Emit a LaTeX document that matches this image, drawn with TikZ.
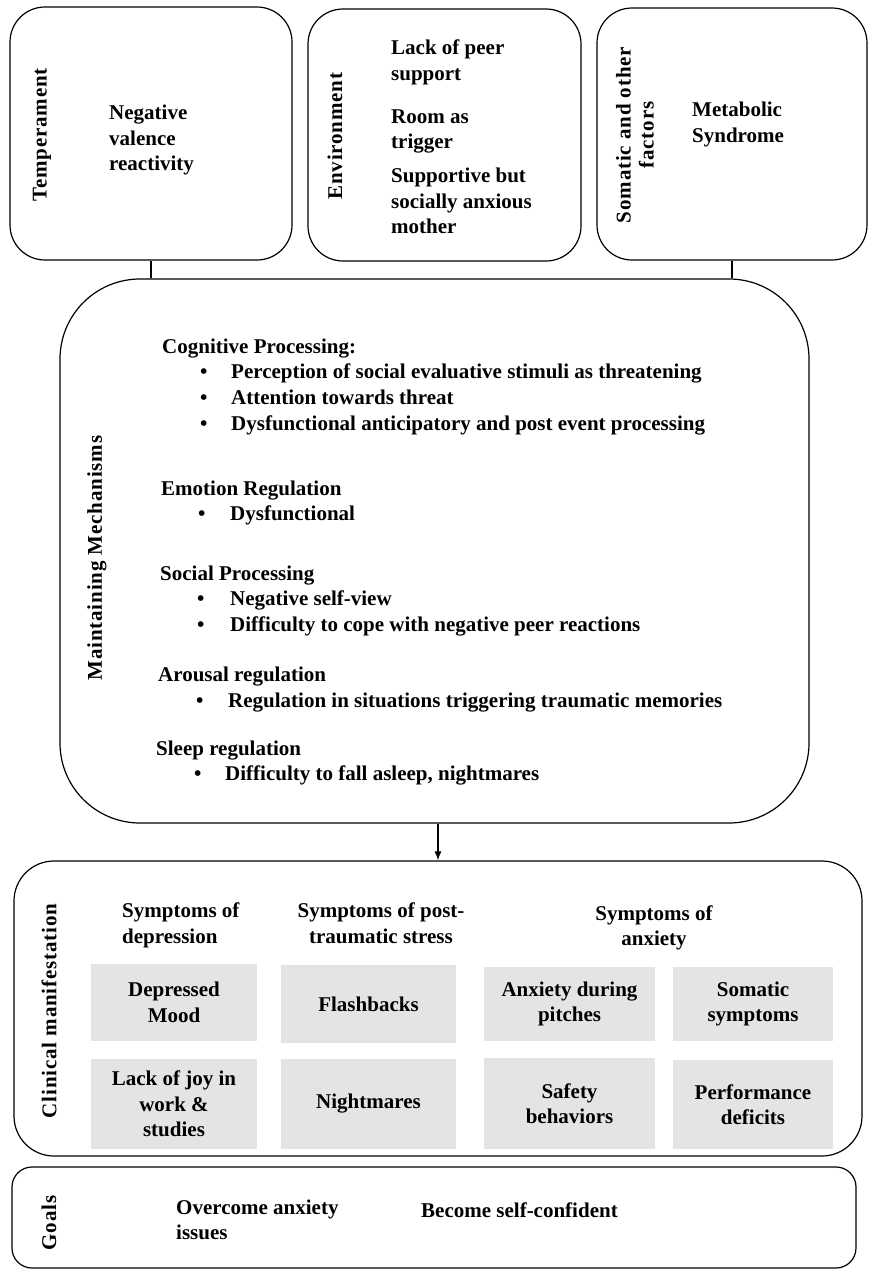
\documentclass[tikz,border=0pt]{standalone}
\usepackage{fontspec}
\setmainfont{Liberation Serif}
\newfontfamily\labfont[LetterSpace=4]{Liberation Serif}
\usetikzlibrary{arrows.meta}
\definecolor{cellgray}{RGB}{228,228,230}
\newcommand{\dfont}{\fontsize{21}{25.5}\selectfont\bfseries}
\newcommand{\lfont}{\labfont\fontsize{21}{23}\selectfont\bfseries}
\begin{document}
\begin{tikzpicture}[x=1pt,y=-1pt,
  box/.style={draw, line width=1.2pt, inner sep=0pt, rounded corners=#1},
  cell/.style={fill=cellgray, inner sep=0pt, font=\dfont, align=center},
  txt/.style={font=\dfont, align=left, inner sep=0pt},
  lab/.style={font=\lfont, align=center, inner sep=0pt, rotate=90},
  conn/.style={line width=1.2pt}]
\useasboundingbox[fill=white] (0,0) rectangle (869,1272);

% top boxes
\node[box=35pt, minimum width=282pt, minimum height=253pt] (temp) at (151,133.5) {};
\node[box=35pt, minimum width=273pt, minimum height=252pt] (env) at (444.5,135) {};
\node[box=35pt, minimum width=270pt, minimum height=252pt] (som) at (732,134) {};

\node[lab] (templab) at (42,135) {Temperament};
\node[txt, anchor=west] (temptxt) at (109,140) {Negative\\valence\\reactivity};

\node[lab] (envlab) at (335,136) {Environment};
\node[txt, anchor=west] (env1) at (391,62.5) {Lack of peer\\support};
\node[txt, anchor=west] (env2) at (391,131.5) {Room as\\trigger};
\node[txt, anchor=west] (env3) at (391,201) {Supportive but\\socially anxious\\mother};

\node[lab] (somlab) at (635,135) {Somatic and other\\factors};
\node[txt, anchor=west] (somtxt) at (692,124.5) {Metabolic\\Syndrome};

% middle box
\node[box=80pt, minimum width=749pt, minimum height=544pt] (mid) at (434.5,551) {};
\node[lab] (midlab) at (97,558) {Maintaining Mechanisms};

\node[txt, anchor=base west] (h1) at (162,353) {Cognitive Processing:};
\node[txt, anchor=base west] (b1a) at (200,378) {\textbullet};
\node[txt, anchor=base west] (t1a) at (231,378) {Perception of social evaluative stimuli as threatening};
\node[txt, anchor=base west] (b1b) at (200,404) {\textbullet};
\node[txt, anchor=base west] (t1b) at (231,404) {Attention towards threat};
\node[txt, anchor=base west] (b1c) at (200,430) {\textbullet};
\node[txt, anchor=base west] (t1c) at (231,430) {Dysfunctional anticipatory and post event processing};

\node[txt, anchor=base west] (h2) at (161,495) {Emotion Regulation};
\node[txt, anchor=base west] (b2a) at (198,520) {\textbullet};
\node[txt, anchor=base west] (t2a) at (230,520) {Dysfunctional};

\node[txt, anchor=base west] (h3) at (160,580) {Social Processing};
\node[txt, anchor=base west] (b3a) at (197,605) {\textbullet};
\node[txt, anchor=base west] (t3a) at (230,605) {Negative self-view};
\node[txt, anchor=base west] (b3b) at (197,631) {\textbullet};
\node[txt, anchor=base west] (t3b) at (230,631) {Difficulty to cope with negative peer reactions};

\node[txt, anchor=base west] (h4) at (158,681) {Arousal regulation};
\node[txt, anchor=base west] (b4a) at (196,707) {\textbullet};
\node[txt, anchor=base west] (t4a) at (228,707) {Regulation in situations triggering traumatic memories};

\node[txt, anchor=base west] (h5) at (156,755) {Sleep regulation};
\node[txt, anchor=base west] (b5a) at (194,780) {\textbullet};
\node[txt, anchor=base west] (t5a) at (225,780) {Difficulty to fall asleep, nightmares};

% clinical box
\node[box=40pt, minimum width=848pt, minimum height=295pt] (clin) at (438,1008.5) {};
\node[lab] (clinlab) at (49,1011) {Clinical manifestation};

\node[txt, anchor=west] (hd) at (122,925.5) {Symptoms of\\depression};
\node[txt, align=center] (hp) at (381,923) {Symptoms of post-\\traumatic stress};
\node[txt, align=center] (ha) at (654,928) {Symptoms of\\anxiety};

\node[cell, minimum width=166pt, minimum height=77pt] (dm) at (174,1002.5) {Depressed\\Mood};
\node[cell, minimum width=175pt, minimum height=78pt] (fb) at (368.5,1004) {Flashbacks};
\node[cell, minimum width=171pt, minimum height=74pt] (adp) at (569.5,1004) {Anxiety during\\pitches};
\node[cell, minimum width=160pt, minimum height=74pt] (ss) at (753,1004) {Somatic\\symptoms};
\node[cell, minimum width=166pt, minimum height=90pt] (lj) at (174,1104) {Lack of joy in\\work \&\\studies};
\node[cell, minimum width=175pt, minimum height=90pt] (nm) at (368.5,1104) {Nightmares};
\node[cell, minimum width=171pt, minimum height=91pt] (sb) at (569.5,1103.5) {Safety\\behaviors};
\node[cell, minimum width=160pt, minimum height=89pt] (pd) at (753,1104.5) {Performance\\deficits};

% goals box
\node[box=20pt, minimum width=844pt, minimum height=101pt] (goals) at (434,1217.5) {};
\node[lab] (goalslab) at (49,1223) {Goals};
\node[txt, anchor=west] (g1) at (176,1220) {Overcome anxiety\\issues};
\node[txt, anchor=west] (g2) at (421,1210) {Become self-confident};

% connectors
\draw[conn] (temp.south) -- (temp.south |- mid.north);
\draw[conn] (som.south) -- (som.south |- mid.north);
\draw[conn, -{Latex[length=9pt,width=7pt]}] (mid.south -| clin.north) -- (clin.north);
\end{tikzpicture}
\end{document}
